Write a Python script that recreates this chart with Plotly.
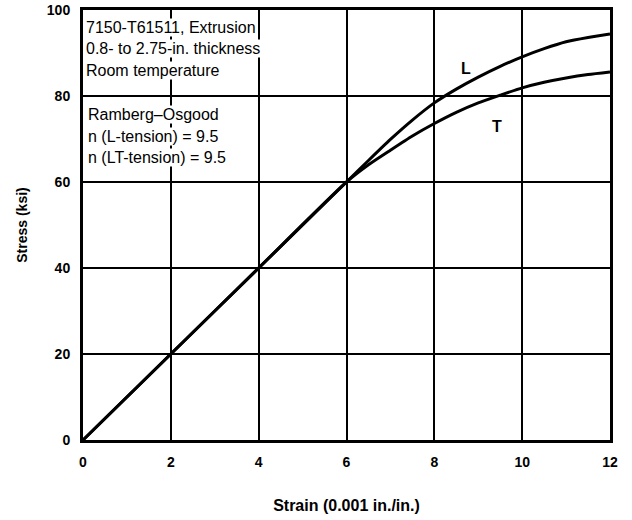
import plotly.graph_objects as go

strain = [0, 2, 4, 6, 6.5, 7, 7.5, 8, 8.5, 9, 9.5, 10, 10.5, 11, 11.5, 12]
stress_L = [0, 20, 40, 60, 65.0, 69.9, 74.4, 78.4, 81.6, 84.4, 86.9, 89.1, 91.0, 92.6, 93.6, 94.4]
stress_T = [0, 20, 40, 60, 64.0, 67.4, 70.7, 73.6, 76.2, 78.4, 80.2, 81.9, 83.2, 84.2, 85.0, 85.6]

x_ticks = [0, 2, 4, 6, 8, 10, 12]
y_ticks = [0, 20, 40, 60, 80, 100]

box1_lines = ["7150-T61511, Extrusion", "0.8- to 2.75-in. thickness", "Room temperature"]
box2_lines = ["Ramberg\u2013Osgood", "n (L-tension) = 9.5", "n (LT-tension) = 9.5"]

curve_labels = [("L", 8.72, 86.5), ("T", 9.42, 73.0)]

FONT2 = "Liberation Sans, Arial, sans-serif"

fig = go.Figure()
fig.add_trace(go.Scatter(x=strain, y=stress_L, mode="lines", line=dict(color="black", width=3, shape="spline", smoothing=0.6), showlegend=False, hoverinfo="skip"))
fig.add_trace(go.Scatter(x=strain, y=stress_T, mode="lines", line=dict(color="black", width=3, shape="spline", smoothing=0.6), showlegend=False, hoverinfo="skip"))

annotations = []
for i, t in enumerate(box1_lines):
    annotations.append(dict(x=0.05, y=98.2 - i * 5.0, xref="x", yref="y", text=t, showarrow=False,
                            xanchor="left", yanchor="top", bgcolor="white", borderpad=0,
                            font=dict(family=FONT2, size=16, color="black")))
for i, t in enumerate(box2_lines):
    annotations.append(dict(x=0.1, y=77.8 - i * 5.0, xref="x", yref="y", text=t, showarrow=False,
                            xanchor="left", yanchor="top", bgcolor="white", borderpad=0,
                            font=dict(family=FONT2, size=16, color="black")))
for t, xx, yy in curve_labels:
    annotations.append(dict(x=xx, y=yy, xref="x", yref="y", text="<b>" + t + "</b>", showarrow=False,
                            font=dict(family=FONT2, size=16, color="black")))

fig.update_layout(
    width=632, height=520,
    margin=dict(l=83, r=22, t=10, b=80),
    plot_bgcolor="white", paper_bgcolor="white",
    annotations=annotations,
    font=dict(family=FONT2, color="black"),
)
fig.update_xaxes(range=[0, 12], tickvals=x_ticks, ticktext=["<b>%d</b>" % v for v in x_ticks],
                 showgrid=True, gridcolor="black", gridwidth=1.5, zeroline=False,
                 showline=True, linecolor="black", linewidth=3, mirror=True, ticks="",
                 automargin=False,
                 tickfont=dict(family=FONT2, size=14, color="black"), ticklabelstandoff=7,
                 title=dict(text="<b>Strain (0.001 in./in.)</b>", font=dict(family=FONT2, size=16, color="black"), standoff=32))
fig.update_yaxes(range=[0, 100], tickvals=y_ticks, ticktext=["<b>%d</b>" % v for v in y_ticks],
                 showgrid=True, gridcolor="black", gridwidth=1.5, zeroline=False,
                 showline=True, linecolor="black", linewidth=3, mirror=True, ticks="",
                 automargin=False,
                 tickfont=dict(family=FONT2, size=14, color="black"), ticklabelstandoff=7,
                 title=dict(text="<b>Stress (ksi)</b>", font=dict(family=FONT2, size=14, color="black"), standoff=16))

fig.write_html("out.html", config={"displayModeBar": False},
               post_script="document.body.style.margin='0';document.body.style.padding='0';")
